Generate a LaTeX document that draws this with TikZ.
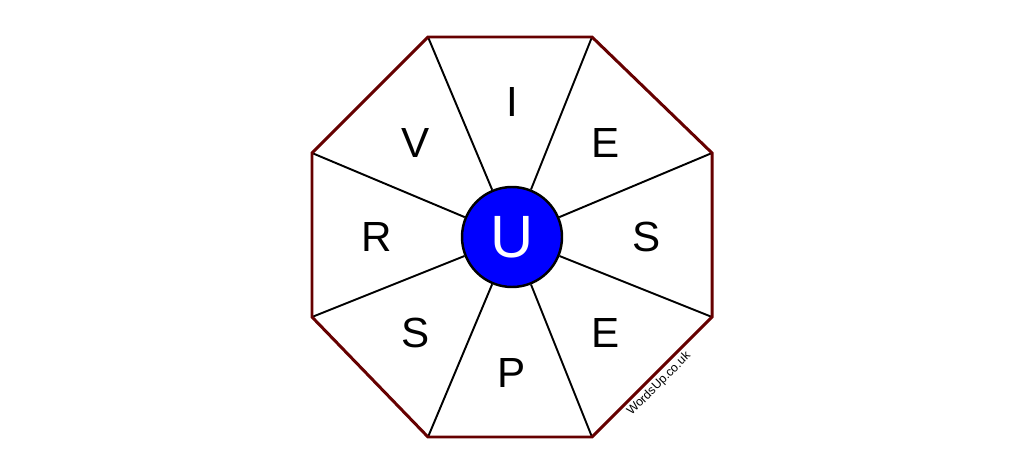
\documentclass[tikz,border=0pt]{standalone}
\usepackage{fontspec}
\setmainfont{Liberation Sans}
\usetikzlibrary{positioning}
\definecolor{rimred}{RGB}{102,0,0}
\definecolor{hubblue}{RGB}{0,0,255}
\tikzset{
	letter/.style={font=\fontsize{24}{24}\selectfont,inner sep=0pt},
	spoke/.style={line width=1.1pt,black},
	rim/.style={line width=1.7pt,rimred,line join=miter},
	hub/.style={circle,draw=black,line width=1.4pt,fill=hubblue,text=white,minimum size=100*0.02cm,inner sep=0pt,font=\fontsize{34}{34}\selectfont}
}
\begin{document}
\begin{tikzpicture}[x=0.02cm,y=-0.02cm]
			\useasboundingbox (0,0) rectangle (1024,476);
			% corners of the wheel
			\coordinate (c1) at (428,37);
			\coordinate (c2) at (592,37);
			\coordinate (c3) at (712,153);
			\coordinate (c4) at (712,317);
			\coordinate (c5) at (592,437);
			\coordinate (c6) at (428,437);
			\coordinate (c7) at (312,317);
			\coordinate (c8) at (312,153);
			\node[hub] (hub) at (512,237) {U};
			\foreach \i in {1,...,8}
				\draw[spoke] (hub) -- (c\i);
			\draw[rim] (c1) -- (c2) -- (c3) -- (c4) -- (c5) -- (c6) -- (c7) -- (c8) -- cycle;
			% letters round the hub
			\node[letter] (l1) at (512,102) {I};
			\node[letter] (l2) at (606,143) {E};
			\node[letter] (l3) at (647,237) {S};
			\node[letter] (l4) at (606,333) {E};
			\node[letter] (l5) at (512,373) {P};
			\node[letter] (l6) at (416,333) {S};
			\node[letter] (l7) at (377,237) {R};
			\node[letter] (l8) at (416,143) {V};
			\node[font=\fontsize{7}{7}\selectfont,rotate=45,inner sep=0pt] (mark) at (659,384) {WordsUp.co.uk};
		\end{tikzpicture}
\end{document}
